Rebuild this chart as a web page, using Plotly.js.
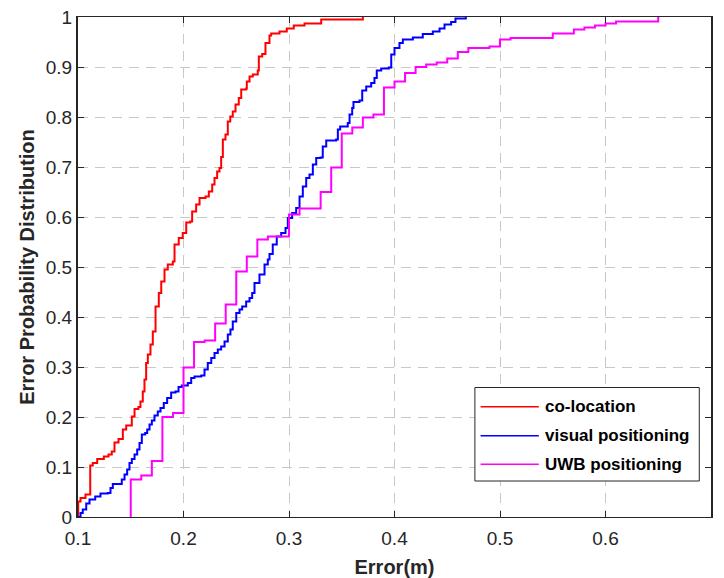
<!DOCTYPE html>
<html>
<head>
<meta charset="utf-8">
<script src="https://cdn.plot.ly/plotly-3.0.1.min.js"></script>
<style>html,body{margin:0;padding:0;background:#fff}#chart{width:724px;height:578px}</style>
</head>
<body>
<div id="chart"></div>
<script>
// ---- data ----
const seriesNames = ['co-location', 'visual positioning', 'UWB positioning'];
const seriesColors = ['#ff0000', '#0000ff', '#ff00ff'];

const colocX = [0.1000, 0.1002, 0.1024, 0.1071, 0.1116, 0.1140, 0.1182, 0.1245, 0.1289, 0.1320, 0.1346, 0.1384, 0.1425, 0.1457, 0.1510, 0.1536, 0.1573, 0.1592, 0.1614, 0.1630, 0.1646, 0.1662, 0.1687, 0.1709, 0.1735, 0.1766, 0.1789, 0.1820, 0.1851, 0.1899, 0.1915, 0.1955, 0.1993, 0.2026, 0.2064, 0.2082, 0.2120, 0.2152, 0.2209, 0.2240, 0.2272, 0.2294, 0.2319, 0.2341, 0.2357, 0.2373, 0.2398, 0.2420, 0.2443, 0.2467, 0.2493, 0.2524, 0.2547, 0.2594, 0.2600, 0.2626, 0.2657, 0.2704, 0.2714, 0.2746, 0.2777, 0.2815, 0.2831, 0.2910, 0.2979, 0.3045, 0.3147, 0.3305, 0.3700];
const colocY = [0.000, 0.031, 0.038, 0.045, 0.103, 0.108, 0.116, 0.121, 0.125, 0.131, 0.149, 0.156, 0.175, 0.183, 0.201, 0.216, 0.220, 0.231, 0.251, 0.275, 0.308, 0.325, 0.345, 0.371, 0.421, 0.448, 0.471, 0.495, 0.505, 0.511, 0.545, 0.558, 0.568, 0.589, 0.591, 0.611, 0.625, 0.638, 0.641, 0.651, 0.665, 0.678, 0.691, 0.698, 0.720, 0.755, 0.765, 0.791, 0.801, 0.811, 0.825, 0.838, 0.855, 0.857, 0.871, 0.881, 0.885, 0.893, 0.921, 0.926, 0.948, 0.963, 0.967, 0.971, 0.977, 0.983, 0.987, 0.995, 1.000];

const visualX = [0.1000, 0.1024, 0.1045, 0.1078, 0.1109, 0.1163, 0.1213, 0.1282, 0.1308, 0.1330, 0.1415, 0.1441, 0.1466, 0.1488, 0.1510, 0.1536, 0.1561, 0.1583, 0.1605, 0.1637, 0.1656, 0.1678, 0.1700, 0.1725, 0.1756, 0.1782, 0.1813, 0.1845, 0.1883, 0.1924, 0.1953, 0.1984, 0.2041, 0.2073, 0.2104, 0.2168, 0.2199, 0.2230, 0.2263, 0.2294, 0.2325, 0.2357, 0.2389, 0.2420, 0.2445, 0.2467, 0.2500, 0.2531, 0.2556, 0.2594, 0.2626, 0.2651, 0.2673, 0.2720, 0.2768, 0.2799, 0.2815, 0.2846, 0.2884, 0.2926, 0.2967, 0.2989, 0.3030, 0.3068, 0.3100, 0.3131, 0.3163, 0.3194, 0.3226, 0.3258, 0.3299, 0.3320, 0.3353, 0.3447, 0.3463, 0.3485, 0.3557, 0.3574, 0.3599, 0.3611, 0.3668, 0.3694, 0.3732, 0.3779, 0.3810, 0.3832, 0.3874, 0.3946, 0.3969, 0.4000, 0.4047, 0.4079, 0.4174, 0.4268, 0.4363, 0.4427, 0.4474, 0.4537, 0.4578, 0.4676];
const visualY = [0.000, 0.008, 0.015, 0.027, 0.035, 0.041, 0.047, 0.048, 0.058, 0.066, 0.075, 0.085, 0.095, 0.108, 0.116, 0.125, 0.135, 0.148, 0.165, 0.168, 0.175, 0.185, 0.193, 0.203, 0.211, 0.218, 0.228, 0.238, 0.249, 0.251, 0.260, 0.263, 0.268, 0.278, 0.281, 0.283, 0.295, 0.308, 0.318, 0.328, 0.335, 0.341, 0.351, 0.365, 0.375, 0.391, 0.408, 0.415, 0.421, 0.431, 0.438, 0.448, 0.468, 0.485, 0.505, 0.515, 0.526, 0.545, 0.561, 0.568, 0.578, 0.598, 0.608, 0.618, 0.641, 0.661, 0.678, 0.685, 0.705, 0.718, 0.719, 0.741, 0.753, 0.755, 0.775, 0.781, 0.788, 0.805, 0.818, 0.830, 0.833, 0.853, 0.861, 0.868, 0.878, 0.893, 0.897, 0.899, 0.925, 0.938, 0.948, 0.955, 0.959, 0.966, 0.971, 0.977, 0.985, 0.990, 0.997, 1.000];

const uwbX = [0.15, 0.15, 0.16, 0.17, 0.18, 0.19, 0.20, 0.21, 0.22, 0.23, 0.24, 0.25, 0.26, 0.27, 0.28, 0.30, 0.31, 0.33, 0.34, 0.35, 0.36, 0.37, 0.38, 0.39, 0.40, 0.41, 0.42, 0.43, 0.44, 0.45, 0.46, 0.47, 0.49, 0.50, 0.51, 0.55, 0.57, 0.58, 0.59, 0.60, 0.61, 0.65];
const uwbY = [0.000, 0.075, 0.083, 0.112, 0.200, 0.208, 0.299, 0.350, 0.353, 0.387, 0.425, 0.491, 0.521, 0.555, 0.561, 0.605, 0.617, 0.650, 0.699, 0.767, 0.779, 0.799, 0.805, 0.859, 0.871, 0.888, 0.900, 0.905, 0.909, 0.917, 0.930, 0.938, 0.941, 0.955, 0.958, 0.967, 0.975, 0.979, 0.983, 0.987, 0.991, 1.000];

const xTickVals = [0.1, 0.2, 0.3, 0.4, 0.5, 0.6, 0.7];
const xTickText = ['0.1', '0.2', '0.3', '0.4', '0.5', '0.6', '0.7'];
const yTickVals = [0, 0.1, 0.2, 0.3, 0.4, 0.5, 0.6, 0.7, 0.8, 0.9, 1];
const yTickText = ['0', '0.1', '0.2', '0.3', '0.4', '0.5', '0.6', '0.7', '0.8', '0.9', '1'];
const xTitle = 'Error(m)';
const yTitle = 'Error Probability Distribution';

// ---- traces ----
const xs = [colocX, visualX, uwbX];
const ys = [colocY, visualY, uwbY];
const traces = xs.map((x, i) => ({
  type: 'scatter', mode: 'lines', x: x, y: ys[i], name: seriesNames[i],
  line: {color: seriesColors[i], width: 2, shape: 'hv'},
  showlegend: false, hoverinfo: 'skip'
}));

// ---- custom legend (MATLAB style: long sample lines) ----
const FONT = 'Liberation Sans, Arial, Helvetica, sans-serif';
const legRows = [0.2206, 0.1626, 0.1054];
const shapes = [{
  type: 'rect', xref: 'paper', yref: 'paper', x0: 0.627, x1: 0.9815, y0: 0.072, y1: 0.259,
  line: {color: '#262626', width: 1}, fillcolor: '#ffffff', layer: 'above'
}];
const annotations = [];
seriesNames.forEach((nm, i) => {
  shapes.push({type: 'line', xref: 'paper', yref: 'paper', x0: 0.636, x1: 0.728, y0: legRows[i], y1: legRows[i],
    line: {color: seriesColors[i], width: 1.5}, layer: 'above'});
  annotations.push({xref: 'paper', yref: 'paper', x: 0.735, y: legRows[i], xanchor: 'left', yanchor: 'middle',
    text: nm, showarrow: false, font: {family: FONT, size: 17, color: '#000000', weight: 'bold'}});
});

const axisCommon = {
  ticks: 'inside', ticklen: 6, tickwidth: 1, tickcolor: '#262626',
  showline: true, linecolor: '#262626', mirror: 'ticks',
  showgrid: true, gridcolor: '#c8c8c8', gridwidth: 1, griddash: '10px,7px',
  zeroline: false, automargin: false, fixedrange: true,
  tickfont: {family: FONT, size: 19, color: '#262626'}
};

const layout = {
  width: 724, height: 578,
  margin: {l: 78, r: 13, t: 17, b: 61},
  paper_bgcolor: '#ffffff', plot_bgcolor: '#ffffff',
  font: {family: FONT, color: '#262626'},
  xaxis: Object.assign({}, axisCommon, {
    range: [0.1, 0.7], tickmode: 'array', tickvals: xTickVals, ticktext: xTickText, linewidth: 1,
    ticklabelstandoff: 4,
    title: {text: xTitle, font: {family: FONT, size: 20, color: '#262626', weight: 'bold'}, standoff: 12}
  }),
  yaxis: Object.assign({}, axisCommon, {
    range: [0, 1], tickmode: 'array', tickvals: yTickVals, ticktext: yTickText, linewidth: 2,
    title: {text: yTitle, font: {family: FONT, size: 20, color: '#262626', weight: 'bold'}, standoff: 6}
  }),
  shapes: shapes,
  annotations: annotations,
  showlegend: false
};

Plotly.newPlot('chart', traces, layout, {displayModeBar: false, staticPlot: true});
</script>
</body>
</html>
